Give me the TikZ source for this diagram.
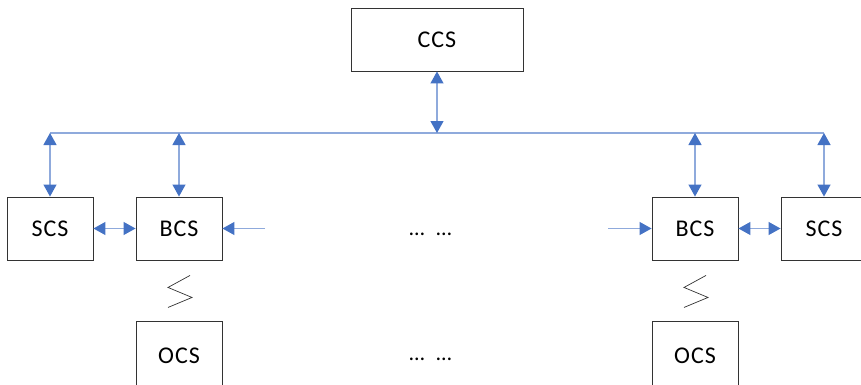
\documentclass[tikz,border=0pt]{standalone}
\usepackage{fontspec}
\usepackage{xcolor}
\usetikzlibrary{positioning}
\usetikzlibrary{arrows.meta}
\newfontfamily\boxfont[LetterSpace=4]{Carlito}
\definecolor{headblue}{HTML}{4472C4}
\definecolor{lineblue}{HTML}{8FAADC}
\tikzset{
  ctrl/.style={draw=black!80,line width=0.9pt,minimum width=86pt,minimum height=63pt,font=\boxfont\fontsize{24}{28}\selectfont},
  link/.style={draw=lineblue,line width=1.2pt,{Triangle[length=12pt,width=13pt,color=headblue]}-{Triangle[length=12pt,width=13pt,color=headblue]}},
  feed/.style={draw=lineblue,line width=1.2pt,-{Triangle[length=12pt,width=13pt,color=headblue]}},
  bus/.style={draw=lineblue,line width=1.2pt},
  gap/.style={anchor=base,font=\boxfont\fontsize{22}{26}\selectfont}
}
\begin{document}
\begin{tikzpicture}[x=1pt,y=-1pt,node distance=129pt,on grid]
   \clip (0,0) rectangle (861,385);
   \node[ctrl,minimum width=172pt] (ccs) at (437,39.5) {CCS};
   \node[ctrl] (bcsL) at (179,228.5) {BCS};
   \node[ctrl] (scsL) [left=of bcsL] {SCS};
   \node[ctrl,minimum height=70pt] (ocsL) [below=127.5pt of bcsL] {OCS};
   \node[ctrl] (bcsR) at (695,228.5) {BCS};
   \node[ctrl] (scsR) [right=of bcsR] {SCS};
   \node[ctrl,minimum height=70pt] (ocsR) [below=127.5pt of bcsR] {OCS};
   \node[gap] (dotsU) at (430.5,235) {…\ \ …};
   \node[gap] (dotsD) at (430.5,360) {…\ \ …};
   \coordinate (busL) at (scsL.north |- 0,133);
   \coordinate (busR) at (scsR.north |- 0,133);
   \coordinate (inL) at (265,228.5);
   \coordinate (inR) at (608,228.5);
   \draw[bus] (busL) -- (busR);
   \draw[link] (ccs.south) -- (ccs.south |- busL);
   \foreach \n in {scsL,bcsL,bcsR,scsR}
     \draw[link] (\n.north |- busL) -- (\n.north);
   \draw[link] (scsL) -- (bcsL);
   \draw[link] (bcsR) -- (scsR);
   \draw[feed] (inL) -- (bcsL);
   \draw[feed] (inR) -- (bcsR);
   % broken link to OCS
   \foreach \n in {bcsL,bcsR}
     \draw[black!80,line width=0.7pt] ([shift={(11,15)}]\n.south) -- ++(-22,12) -- ++(24,10) -- ++(-24,10);
\end{tikzpicture}
\end{document}
